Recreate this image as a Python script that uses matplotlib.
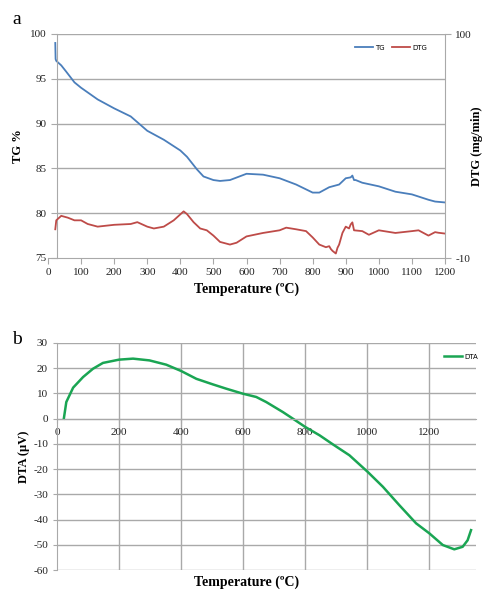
import matplotlib
matplotlib.use("Agg")
import matplotlib.pyplot as plt

plt.rcParams["axes.unicode_minus"] = False

# ---------------- Panel a data ----------------
tg_temp = [22, 23, 25, 40, 55, 80, 100, 150, 200, 250, 300, 350, 400, 420, 450, 470,
           500, 520, 550, 600, 650, 700, 750, 800, 820, 850, 880, 900, 915, 920, 925,
           930, 950, 1000, 1050, 1100, 1150, 1170, 1200]
tg_vals = [99.0, 97.2, 97.0, 96.5, 95.8, 94.6, 94.0, 92.7, 91.7, 90.8, 89.2, 88.2, 87.0,
           86.3, 84.9, 84.1, 83.7, 83.6, 83.7, 84.4, 84.3, 83.9, 83.2, 82.3, 82.3, 82.9,
           83.2, 83.9, 84.0, 84.2, 83.7, 83.7, 83.4, 83.0, 82.4, 82.1, 81.5, 81.3, 81.2]

dtg_temp = [22, 25, 40, 60, 80, 100, 120, 150, 200, 250, 270, 300, 320, 350, 380, 410,
            420, 440, 460, 480, 500, 520, 550, 570, 600, 650, 700, 720, 750, 780, 800,
            820, 840, 850, 855, 860, 870, 875, 880, 890, 900, 910, 915, 920, 925, 950,
            970, 1000, 1050, 1100, 1120, 1150, 1170, 1180, 1200]
# DTG in mg/min (right axis, -10 to 100)
dtg_vals = [4.1, 8.5, 10.7, 9.8, 8.5, 8.5, 6.7, 5.4, 6.3, 6.7, 7.6, 5.4, 4.5, 5.4, 8.5,
            12.9, 11.6, 7.6, 4.5, 3.6, 1.0, -2.1, -3.4, -2.5, 0.6, 2.3, 3.6, 4.9, 4.1,
            3.2, 0.1, -3.4, -4.7, -4.2, -5.6, -6.5, -7.8, -5.0, -3.4, 2.3, 5.4, 4.5, 6.5,
            7.5, 3.6, 3.2, 1.4, 3.6, 2.3, 3.2, 3.6, 1.0, 2.7, 2.4, 2.0]

tg_yticks = [75, 80, 85, 90, 95, 100]
a_xticks = list(range(0, 1201, 100))

# ---------------- Panel b data ----------------
dta_temp = [22, 30, 52, 84, 116, 148, 200, 245, 298, 352, 400, 449, 502, 545, 599, 642,
            674, 728, 760, 800, 846, 889, 942, 1001, 1050, 1103, 1157, 1200, 1243, 1280,
            1307, 1323, 1334]
dta_vals = [0.0, 6.6, 12.3, 16.5, 19.8, 22.1, 23.4, 23.8, 23.1, 21.4, 18.9, 15.8, 13.6,
            11.9, 9.9, 8.6, 6.6, 2.6, 0.0, -3.3, -6.6, -10.2, -14.5, -21.1, -27.0, -34.3,
            -41.5, -45.5, -50.1, -51.8, -50.8, -48.2, -44.2]
b_xticks = list(range(0, 1201, 200))
b_yticks = list(range(-60, 31, 10))

SERIF = "Liberation Serif"
GRID = "#a9a9a9"
TG_C = "#4a7ebb"
DTG_C = "#be4b48"
DTA_C = "#1aa553"

fig = plt.figure(figsize=(4.85, 5.9), dpi=100)

# ================= Panel a =================
W, H = 485.0, 590.0
ax = fig.add_axes([48 / W, 1 - 258 / H, (445 - 48) / W, (258 - 34) / H])
ax.set_xlim(0, 1200)
ax.set_ylim(75, 100)
for yv in tg_yticks[1:]:
    ax.hlines(yv, 27, 1200, color=GRID, lw=1.0, zorder=0)
ax.plot(tg_temp, tg_vals, color=TG_C, lw=1.3, label="TG")
ax.spines["top"].set_visible(False)
ax.spines["right"].set_visible(False)
ax.spines["left"].set_position(("data", 27))
for s in ("left", "bottom"):
    ax.spines[s].set_color(GRID)
ax.set_yticks(tg_yticks)
ax.set_xticks(a_xticks)
ax.tick_params(axis="both", colors=GRID, length=4, labelsize=8, labelcolor="#222222")
for lab in ax.get_xticklabels() + ax.get_yticklabels():
    lab.set_fontfamily(SERIF)
ax.set_xlabel("Temperature (ºC)", fontfamily=SERIF, fontweight="bold", fontsize=10, labelpad=4)
ax.set_ylabel("TG %", fontfamily=SERIF, fontweight="bold", fontsize=9, labelpad=4)

ax2 = ax.twinx()
ax2.set_ylim(-10, 100)
ax2.plot(dtg_temp, dtg_vals, color=DTG_C, lw=1.3, label="DTG")
ax2.set_yticks([-10, 100])
for s in ("top", "left", "bottom"):
    ax2.spines[s].set_visible(False)
ax2.spines["right"].set_color(GRID)
ax2.tick_params(axis="y", colors=GRID, length=4, labelsize=8, labelcolor="#222222")
for lab in ax2.get_yticklabels():
    lab.set_fontfamily(SERIF)
fig.text(477 / W, 1 - 146 / H, "DTG (mg/min)", fontfamily=SERIF, fontweight="bold",
         fontsize=9, rotation=90, ha="center", va="center")

h1, l1 = ax.get_legend_handles_labels()
h2, l2 = ax2.get_legend_handles_labels()
ax2.legend(h1 + h2, l1 + l2, loc="upper right", bbox_to_anchor=(0.97, 0.98), ncol=2,
           frameon=False, fontsize=5, handlelength=2.6, columnspacing=1.0, handletextpad=0.3)

fig.text(17 / W, 1 - 20 / H, "a", fontfamily=SERIF, fontsize=14, ha="center", va="center")

# ================= Panel b =================
bx = fig.add_axes([57 / W, 1 - 570 / H, (476 - 57) / W, (570 - 343) / H])
bx.set_xlim(0, 1350)
bx.set_ylim(-60, 30)
for yv in b_yticks:
    bx.axhline(yv, color=GRID, lw=1.0, zorder=0)
for xv in b_xticks[1:]:
    bx.axvline(xv, color=GRID, lw=1.0, zorder=0)
bx.plot(dta_temp, dta_vals, color=DTA_C, lw=1.8, label="DTA")
for s in ("top", "right"):
    bx.spines[s].set_visible(False)
bx.spines["bottom"].set_position(("data", 0))
bx.spines["bottom"].set_color(GRID)
bx.spines["left"].set_color(GRID)
bx.set_xticks(b_xticks)
bx.set_yticks(b_yticks)
bx.tick_params(axis="both", colors=GRID, length=3, labelsize=8, labelcolor="#222222")
for lab in bx.get_xticklabels() + bx.get_yticklabels():
    lab.set_fontfamily(SERIF)
bx.set_ylabel("DTA (µV)", fontfamily=SERIF, fontweight="bold", fontsize=9, labelpad=2)
fig.text(247 / W, 1 - 582 / H, "Temperature (ºC)", fontfamily=SERIF, fontweight="bold",
         fontsize=10, ha="center", va="center")
bx.legend(loc="upper right", bbox_to_anchor=(1.02, 0.98), frameon=False, fontsize=5,
          handlelength=2.6, handletextpad=0.3)

fig.text(17 / W, 1 - 339 / H, "b", fontfamily=SERIF, fontsize=14, ha="center", va="center")

fig.savefig("out.png", dpi=100)
